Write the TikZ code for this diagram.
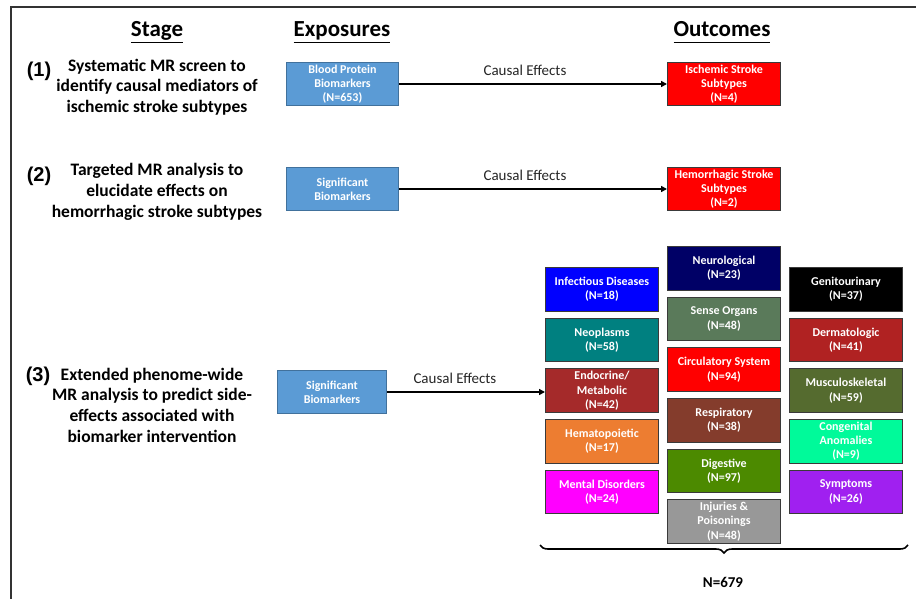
\documentclass[tikz,border=0pt]{standalone}
\usepackage{fontspec}
\setmainfont{Carlito}
\newfontfamily\arialfont{Liberation Sans}
\usepackage{tikz}
\usetikzlibrary{positioning,arrows.meta,decorations.pathreplacing}

\definecolor{expoblue}{HTML}{5B9BD5}
\definecolor{expoline}{HTML}{41719C}
\definecolor{boxline}{HTML}{3A3A3A}
\definecolor{c-inf}{HTML}{0000FF}
\definecolor{c-neo}{HTML}{008080}
\definecolor{c-endo}{HTML}{A52A2A}
\definecolor{c-hema}{HTML}{ED7D31}
\definecolor{c-ment}{HTML}{FF00FF}
\definecolor{c-neur}{HTML}{000066}
\definecolor{c-sens}{HTML}{5A7A5A}
\definecolor{c-circ}{HTML}{FF0000}
\definecolor{c-resp}{HTML}{843C2C}
\definecolor{c-dige}{HTML}{4C8A00}
\definecolor{c-inju}{HTML}{989898}
\definecolor{c-geni}{HTML}{000000}
\definecolor{c-derm}{HTML}{B02222}
\definecolor{c-musc}{HTML}{556B2F}
\definecolor{c-cong}{HTML}{00FA9A}
\definecolor{c-symp}{HTML}{A020F0}

\newcommand{\hdr}[1]{\underline{#1\vphantom{g}}}

\begin{document}
\begin{tikzpicture}[
	x=1pt, y=-1pt,
	header/.style={font=\fontsize{23}{27}\selectfont\bfseries, anchor=base},
	stagetxt/.style={font=\fontsize{17.5}{20.7}\selectfont\bfseries, align=center},
	stagenum/.style={font=\arialfont\fontsize{20}{24}\selectfont\bfseries},
	box/.style={ % rectangles with white bold text
			line width=1pt, minimum width=113pt, minimum height=43.5pt,
			inner sep=0pt, align=center, text=white,
			font=\fontsize{12}{14.3}\selectfont\bfseries
		},
	expo/.style={box, draw=expoline, fill=expoblue, minimum width=112pt},
	outc/.style={box, draw=boxline, fill=c-circ},
	cat/.style={box, draw=boxline},
	effect/.style={-{Triangle[length=6pt,width=6pt]}, line width=1.6pt},
	efflabel/.style={font=\fontsize{15}{18}\selectfont, above=4pt, text=black!85}
]
	\useasboundingbox (0,0) rectangle (916,599);
	%% frame
	\draw[line width=2.5pt, black!80] (11,599) -- (11,7) -- (916,7);

	%% column headers
	\node[header] (hstage) at (157,37) {\hdr{Stage}};
	\node[header] (hexpo) at (342,37) {\hdr{Exposures}};
	\node[header] (houtc) at (722,37) {\hdr{Outcomes}};

	%% stage (1)
	\node[stagenum] (num1) at (39,71) {(1)};
	\node[stagetxt] (stage1) at (157,87) {Systematic MR screen to\\identify causal mediators of\\ischemic stroke subtypes};
	\node[expo] (expo1) at (342.5,84) {Blood Protein\\Biomarkers\\(N=653)};
	\node[outc] (outc1) at (724,84) {Ischemic Stroke\\Subtypes\\(N=4)};
	\draw[effect] (expo1) -- node[efflabel, pos=0.47] {Causal Effects} (outc1);

	%% stage (2)
	\node[stagenum] (num2) at (39,176) {(2)};
	\node[stagetxt] (stage2) at (157,192) {Targeted MR analysis to\\elucidate effects on\\hemorrhagic stroke subtypes};
	\node[expo] (expo2) at (342.5,189) {Significant\\Biomarkers};
	\node[outc] (outc2) at (724,189) {Hemorrhagic Stroke\\Subtypes\\(N=2)};
	\draw[effect] (expo2) -- node[efflabel, pos=0.47] {Causal Effects} (outc2);

	%% stage (3)
	\node[stagenum] (num3) at (38,376) {(3)};
	\node[stagetxt] (stage3) at (152,405) {Extended phenome-wide\\MR analysis to predict side-\\effects associated with\\biomarker intervention};
	\node[expo, minimum width=109pt] (expo3) at (332,392) {Significant\\Biomarkers};

	% left column
	\node[cat, fill=c-inf] (inf) at (602,289.5) {Infectious Diseases\\(N=18)};
	\node[cat, fill=c-neo, below=6.1pt of inf] (neo) {Neoplasms\\(N=58)};
	\node[cat, fill=c-endo, below=6.1pt of neo] (endo) {Endocrine/\\Metabolic\\(N=42)};
	\node[cat, fill=c-hema, below=6.1pt of endo] (hema) {Hematopoietic\\(N=17)};
	\node[cat, fill=c-ment, below=6.1pt of hema] (ment) {Mental Disorders\\(N=24)};
	% middle column
	\node[cat, fill=c-neur] (neur) at (724,268.5) {Neurological\\(N=23)};
	\node[cat, fill=c-sens, below=6.1pt of neur] (sens) {Sense Organs\\(N=48)};
	\node[cat, fill=c-circ, below=6.1pt of sens] (circ) {Circulatory System\\(N=94)};
	\node[cat, fill=c-resp, below=6.1pt of circ] (resp) {Respiratory\\(N=38)};
	\node[cat, fill=c-dige, below=6.1pt of resp] (dige) {Digestive\\(N=97)};
	\node[cat, fill=c-inju, below=6.1pt of dige] (inju) {Injuries \&\\Poisonings\\(N=48)};
	% right column
	\node[cat, fill=c-geni] (geni) at (846,289.5) {Genitourinary\\(N=37)};
	\node[cat, fill=c-derm, below=6.1pt of geni] (derm) {Dermatologic\\(N=41)};
	\node[cat, fill=c-musc, below=6.1pt of derm] (musc) {Musculoskeletal\\(N=59)};
	\node[cat, fill=c-cong, below=6.1pt of musc] (cong) {Congenital\\Anomalies\\(N=9)};
	\node[cat, fill=c-symp, below=6.1pt of cong] (symp) {Symptoms\\(N=26)};

	\draw[effect] (expo3.east) -- node[efflabel, pos=0.43] {Causal Effects} (expo3.east -| endo.west);

	%% brace under all categories
	\coordinate (bl) at (540,545);
	\coordinate (br) at (908,545);
	\draw[line width=1.6pt, decorate, decoration={brace, mirror, amplitude=8pt}] (bl) -- (br);
	\node[font=\fontsize{15}{18}\selectfont\bfseries] (total) at (723,582) {N=679};
\end{tikzpicture}
\end{document}
